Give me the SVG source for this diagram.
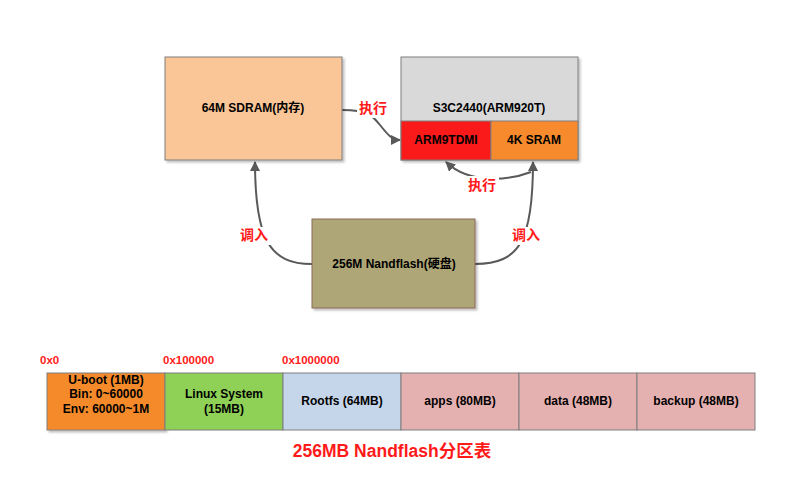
<svg xmlns="http://www.w3.org/2000/svg" width="807" height="485" viewBox="0 0 807 485">
<defs>
<marker id="ah" viewBox="0 0 10 10" refX="9" refY="5" markerWidth="5" markerHeight="5" orient="auto" markerUnits="strokeWidth">
<path d="M0,0 L10,5 L0,10 z" fill="#595959"/>
</marker>
<filter id="sh" x="-5%" y="-5%" width="115%" height="115%">
<feDropShadow dx="2" dy="2" stdDeviation="1.2" flood-color="#000" flood-opacity="0.25"/>
</filter>
</defs>
<style>
text{font-family:"Liberation Sans",Arial,"Noto Sans CJK SC",sans-serif;font-weight:bold;text-anchor:middle;}
.t{font-size:12px;fill:#000;}
.r{font-size:14px;fill:#ff1a1a;font-weight:bold;font-family:"Noto Sans CJK SC",sans-serif;}
.a{font-size:11.5px;fill:#ff1a1a;text-anchor:start;}
.box{stroke:#7f7f7f;stroke-width:1;}
.c{fill:none;stroke:#595959;stroke-width:2;marker-end:url(#ah);}
</style>
<rect width="807" height="485" fill="#fff"/>
<g id="connectors">
<path class="c" d="M312,264 C270,264 255,240 255,162"/>
<path class="c" d="M475,264 C520,264 533,240 533,162"/>
<path class="c" d="M342,110 C368,110 372,115 380,125 C388,135 392,140 400,140"/>
<path class="c" d="M531,172 C510,180 470,185 446,162"/>
</g>
<g id="sdram">
<rect class="box" x="165" y="57" width="177" height="103" fill="#fac697" filter="url(#sh)"/>
<text class="t" x="253" y="112">64M SDRAM(内存)</text>
</g>
<g id="s3c2440">
<rect class="box" x="401" y="57" width="177" height="103" fill="#d9d9d9" filter="url(#sh)"/>
<text class="t" x="489" y="112">S3C2440(ARM920T)</text>
</g>
<g id="arm9tdmi">
<rect class="box" x="401" y="121" width="90" height="39" fill="#fa1a1a"/>
<text class="t" x="446" y="144">ARM9TDMI</text>
</g>
<g id="sram">
<rect class="box" x="491" y="121" width="87" height="39" fill="#f68a2c"/>
<text class="t" x="534" y="144">4K SRAM</text>
</g>
<g id="nandflash">
<rect x="312" y="219" width="163" height="89" fill="#aea676" stroke="#8a6a5a" stroke-width="1" filter="url(#sh)"/>
<text class="t" x="394" y="268">256M Nandflash(硬盘)</text>
</g>
<g id="labels">
<rect x="357" y="98" width="33" height="20" fill="#fff"/>
<text class="r" x="373" y="113">执行</text>
<rect x="466" y="176" width="33" height="18" fill="#fff"/>
<text class="r" x="482" y="190">执行</text>
<rect x="238" y="227" width="33" height="18" fill="#fff"/>
<text class="r" x="254" y="240">调入</text>
<rect x="510" y="227" width="33" height="18" fill="#fff"/>
<text class="r" x="526" y="240">调入</text>
</g>
<g id="partition">
<rect class="box" x="47" y="373" width="118" height="57" fill="#f58a2a" filter="url(#sh)"/>
<text class="t" x="106" y="384">U-boot (1MB)</text>
<text class="t" x="106" y="398">Bin: 0~60000</text>
<text class="t" x="106" y="413">Env: 60000~1M</text>
<rect class="box" x="165" y="373" width="118" height="57" fill="#8fd057"/>
<text class="t" x="224" y="398">Linux System</text>
<text class="t" x="224" y="413">(15MB)</text>
<rect class="box" x="283" y="373" width="118" height="57" fill="#c5d5ea"/>
<text class="t" x="342" y="405">Rootfs (64MB)</text>
<rect class="box" x="401" y="373" width="118" height="57" fill="#e5b0b0"/>
<text class="t" x="460" y="405">apps (80MB)</text>
<rect class="box" x="519" y="373" width="118" height="57" fill="#e5b0b0"/>
<text class="t" x="578" y="405">data (48MB)</text>
<rect class="box" x="637" y="373" width="118" height="57" fill="#e5b0b0"/>
<text class="t" x="696" y="405">backup (48MB)</text>
<text class="a" x="40" y="364">0x0</text>
<text class="a" x="163" y="364">0x100000</text>
<text class="a" x="282" y="364">0x1000000</text>
<text x="392" y="457" style="font-size:17.5px;fill:#ff1a1a">256MB Nandflash分区表</text>
</g>
</svg>
